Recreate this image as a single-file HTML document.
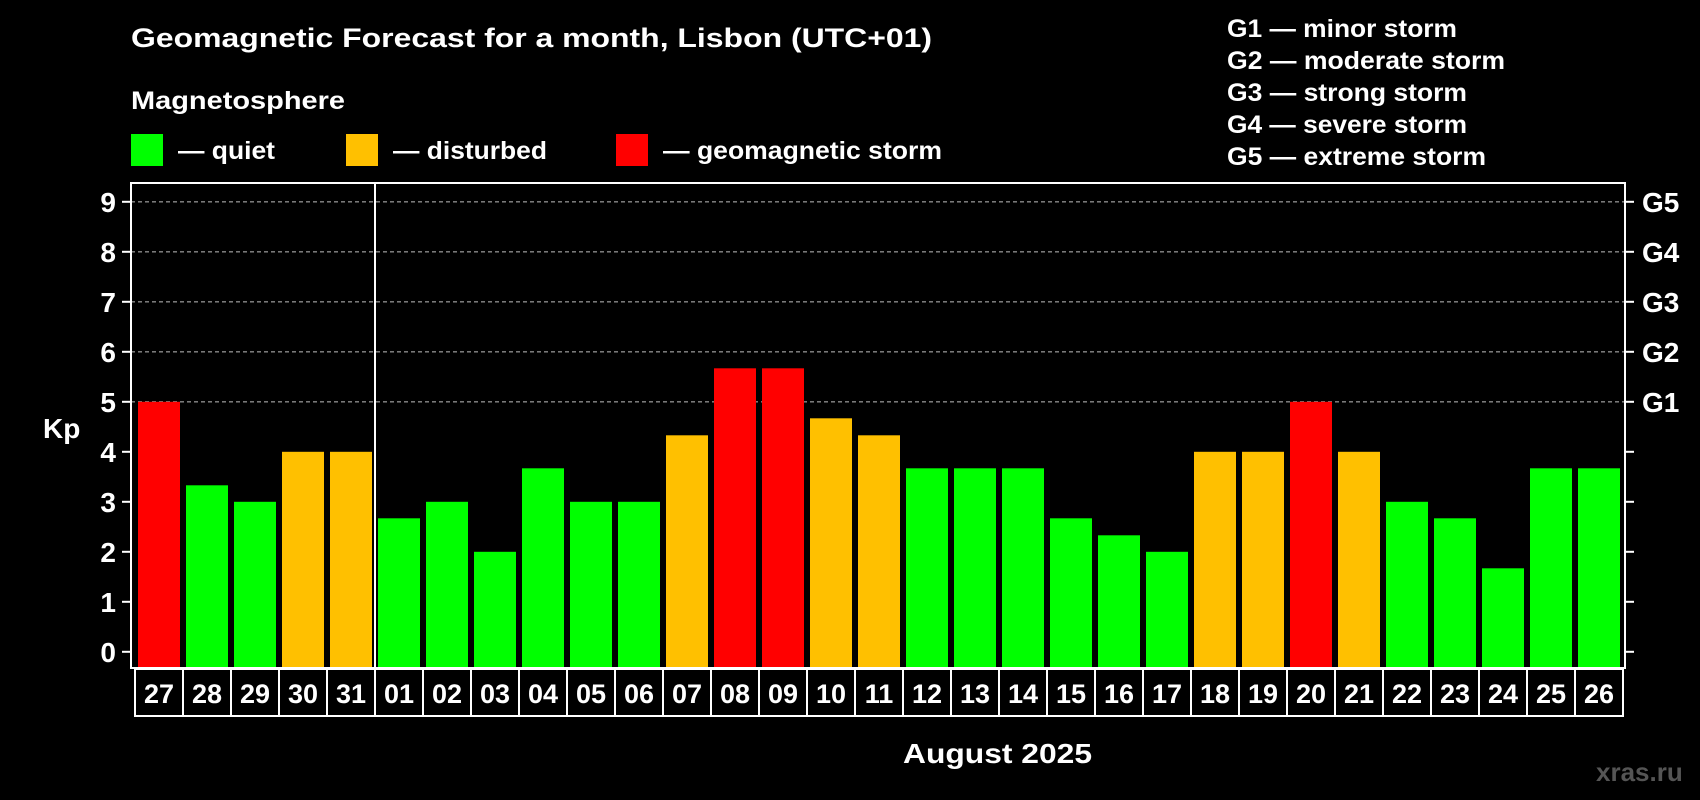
<!DOCTYPE html>
<html><head><meta charset="utf-8"><style>
html,body{margin:0;padding:0;background:#000;width:1700px;height:800px;overflow:hidden}
svg text{font-family:"Liberation Sans",sans-serif;font-weight:bold;fill:#fff}
</style></head><body>
<svg id="chart" width="1700" height="800" xmlns="http://www.w3.org/2000/svg">
<rect width="1700" height="800" fill="#000"/>
<text x="131" y="47" font-size="27" textLength="801" lengthAdjust="spacingAndGlyphs">Geomagnetic Forecast for a month, Lisbon (UTC+01)</text>
<text x="131" y="109" font-size="25" textLength="214" lengthAdjust="spacingAndGlyphs">Magnetosphere</text>
<g><rect x="131" y="134" width="32" height="32" fill="#00ff00"/><text x="178" y="159" font-size="25" textLength="97" lengthAdjust="spacingAndGlyphs">— quiet</text></g>
<g><rect x="346" y="134" width="32" height="32" fill="#ffc000"/><text x="393" y="159" font-size="25" textLength="154" lengthAdjust="spacingAndGlyphs">— disturbed</text></g>
<g><rect x="616" y="134" width="32" height="32" fill="#ff0000"/><text x="663" y="159" font-size="25" textLength="279" lengthAdjust="spacingAndGlyphs">— geomagnetic storm</text></g>
<g font-size="25">
<text x="1227" y="37" textLength="230" lengthAdjust="spacingAndGlyphs">G1 — minor storm</text>
<text x="1227" y="69" textLength="278" lengthAdjust="spacingAndGlyphs">G2 — moderate storm</text>
<text x="1227" y="101" textLength="240" lengthAdjust="spacingAndGlyphs">G3 — strong storm</text>
<text x="1227" y="133" textLength="240" lengthAdjust="spacingAndGlyphs">G4 — severe storm</text>
<text x="1227" y="165" textLength="259" lengthAdjust="spacingAndGlyphs">G5 — extreme storm</text>
</g>
<g id="grid"></g><g id="bars"></g><g id="axes"></g><g id="xlabels"></g>
<text x="43" y="438" font-size="28">Kp</text>
<text x="903" y="763" font-size="28" textLength="189" lengthAdjust="spacingAndGlyphs">August 2025</text>
<text x="1596" y="781" font-size="26" style="fill:#555">xras.ru</text>
</svg>
<script>
const days = ["27","28","29","30","31","01","02","03","04","05","06","07","08","09","10","11","12","13","14","15","16","17","18","19","20","21","22","23","24","25","26"];
const kpValues = [5,3.33,3,4,4,2.67,3,2,3.67,3,3,4.33,5.67,5.67,4.67,4.33,3.67,3.67,3.67,2.67,2.33,2,4,4,5,4,3,2.67,1.67,3.67,3.67];
const yTicks = [0,1,2,3,4,5,6,7,8,9];
const gLabels = ["G1","G2","G3","G4","G5"];
const gLevels = [5,6,7,8,9];
const monthStartIndex = 5;

const NS="http://www.w3.org/2000/svg";
const L=131,R=1625,T=183,B=668,X0=138,PITCH=48,BW=42;
const y=v=>651.8-50*v;
const x=i=>X0+PITCH*i;
const color=v=>v>=5?"#ff0000":(v>=4?"#ffc000":"#00ff00");
function mk(tag,attrs,parent){const e=document.createElementNS(NS,tag);for(const k in attrs)e.setAttribute(k,attrs[k]);parent.appendChild(e);return e;}
const grid=document.getElementById('grid'),bars=document.getElementById('bars'),axes=document.getElementById('axes'),xl=document.getElementById('xlabels');
gLevels.forEach((lv,i)=>{
  const g=mk('line',{x1:L,x2:R,y1:y(lv),y2:y(lv),stroke:"#8a8a8a","stroke-width":1.3,"stroke-dasharray":"4 3"},grid);
  
  
  const t=mk('text',{x:1642,y:y(lv)+10,"font-size":28},axes);
  t.textContent=gLabels[i];
  
  
});
kpValues.forEach((v,i)=>{
  const r=mk('rect',{x:x(i),y:y(v),width:BW,height:B-y(v),fill:color(v)},bars);
  
  
});
const fr=mk('rect',{x:L,y:T,width:R-L,height:B-T,fill:"none",stroke:"#fff","stroke-width":2},axes);


const sx=x(monthStartIndex)-3;
const sep=mk('line',{x1:sx,x2:sx,y1:T,y2:B,stroke:"#fff","stroke-width":2},axes);


yTicks.forEach(v=>{
  mk('line',{x1:L-9,x2:L,y1:y(v),y2:y(v),stroke:"#fff","stroke-width":2},axes);
  mk('line',{x1:R,x2:R+9,y1:y(v),y2:y(v),stroke:"#fff","stroke-width":2},axes);
  const t=mk('text',{x:116,y:y(v)+10,"font-size":28,"text-anchor":"end"},axes);
  t.textContent=v;
  
  
});
days.forEach((d,i)=>{
  const cx=x(i)-3;
  const c=mk('rect',{x:cx,y:669,width:PITCH,height:47,fill:"#000",stroke:"#fff","stroke-width":2},xl);
  
  
  const t=mk('text',{x:cx+PITCH/2,y:703,"font-size":27,"text-anchor":"middle"},xl);
  t.textContent=d;
  
  
});
</script>
</body></html>
